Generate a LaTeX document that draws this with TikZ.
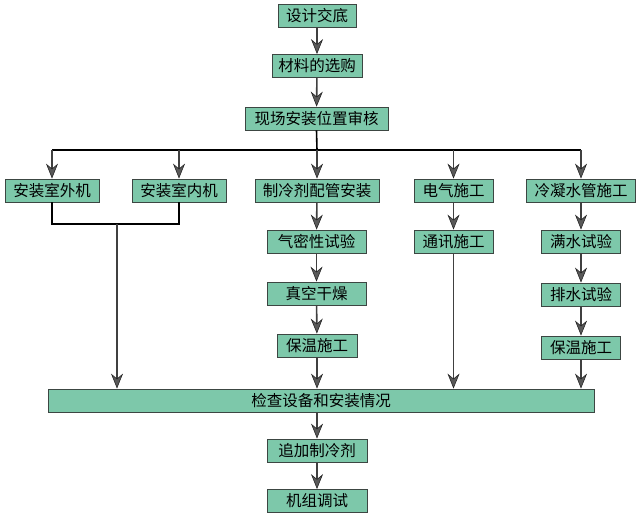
\documentclass[tikz,border=0pt]{standalone}
\usepackage{fontspec}
\newfontfamily\cjk{Noto Sans CJK SC}
\usetikzlibrary{arrows.meta}

\definecolor{boxgreen}{RGB}{125,200,170}
\definecolor{boxline}{RGB}{60,70,66}

\begin{document}
\begin{tikzpicture}[x=1pt, y=-1pt,
  every node/.style={font=\cjk\fontsize{15.5}{18}\selectfont},
  stepbox/.style={draw=boxline, fill=boxgreen, line width=0.8pt, inner sep=0pt, minimum height=23pt},
  flow/.style={draw=black!75, line width=1.6pt, -{Stealth[length=15pt, width=12pt, inset=5pt, fill=black!65, color=black!85, line width=0.6pt]}},
  link/.style={draw=black, line width=1.6pt}]
  \useasboundingbox (0,0) rectangle (640,518);

  \node[stepbox, minimum width=78pt] (top) at (317,15.5) {设计交底};
  \node[stepbox, minimum width=90pt] (buy) at (317,66) {材料的选购};
  \node[stepbox, minimum width=143pt] (site) at (316.5,118.5) {现场安装位置审核};

  \node[stepbox, minimum width=94pt] (outd) at (52,190.5) {安装室外机};
  \node[stepbox, minimum width=94pt] (ind) at (179,190.5) {安装室内机};
  \node[stepbox, minimum width=124pt] (pipe) at (317,190.5) {制冷剂配管安装};
  \node[stepbox, minimum width=79pt] (elec) at (453.5,190.5) {电气施工};
  \node[stepbox, minimum width=109pt] (cond) at (581,190.5) {冷凝水管施工};

  \node[stepbox, minimum width=99pt] (gas) at (316.5,241.5) {气密性试验};
  \node[stepbox, minimum width=99pt] (vac) at (316.5,293.5) {真空干燥};
  \node[stepbox, minimum width=80pt] (insA) at (317,345.5) {保温施工};

  \node[stepbox, minimum width=79pt] (comm) at (453.5,241.5) {通讯施工};

  \node[stepbox, minimum width=79pt] (water) at (581,241.5) {满水试验};
  \node[stepbox, minimum width=79pt] (drain) at (581,294.5) {排水试验};
  \node[stepbox, minimum width=79pt] (insB) at (581,347.5) {保温施工};

  \node[stepbox, minimum width=546pt] (check) at (321,400.5) {检查设备和安装情况};
  \node[stepbox, minimum width=100pt] (charge) at (317,450.5) {追加制冷剂};
  \node[stepbox, minimum width=100pt] (test) at (317,501) {机组调试};

  % main trunk
  \draw[flow] (top) -- (buy);
  \draw[flow] (buy) -- (site);
  \coordinate (bus) at (317,150);
  \draw[link] (site.south) -- (bus);
  \draw[link] (outd.north |- bus) -- (cond.north |- bus);
  \foreach \n in {outd,ind,pipe,elec,cond}
    \draw[flow] (\n.north |- bus) -- (\n.north);

  % left branch joins below the two units
  \coordinate (join) at (117,224);
  \draw[link] (outd.south) -- (outd.south |- join) -- (ind.south |- join) -- (ind.south);
  \draw[flow] (join) -- (join |- check.north);

  % columns
  \draw[flow] (pipe) -- (gas);
  \draw[flow] (gas) -- (vac);
  \draw[flow] (vac) -- (insA);
  \draw[flow] (insA) -- (insA |- check.north);
  \draw[flow] (elec) -- (comm);
  \draw[flow] (comm) -- (comm |- check.north);
  \draw[flow] (cond) -- (water);
  \draw[flow] (water) -- (drain);
  \draw[flow] (drain) -- (insB);
  \draw[flow] (insB) -- (insB |- check.north);

  \draw[flow] (check.south -| charge) -- (charge);
  \draw[flow] (charge) -- (test);
\end{tikzpicture}
\end{document}
